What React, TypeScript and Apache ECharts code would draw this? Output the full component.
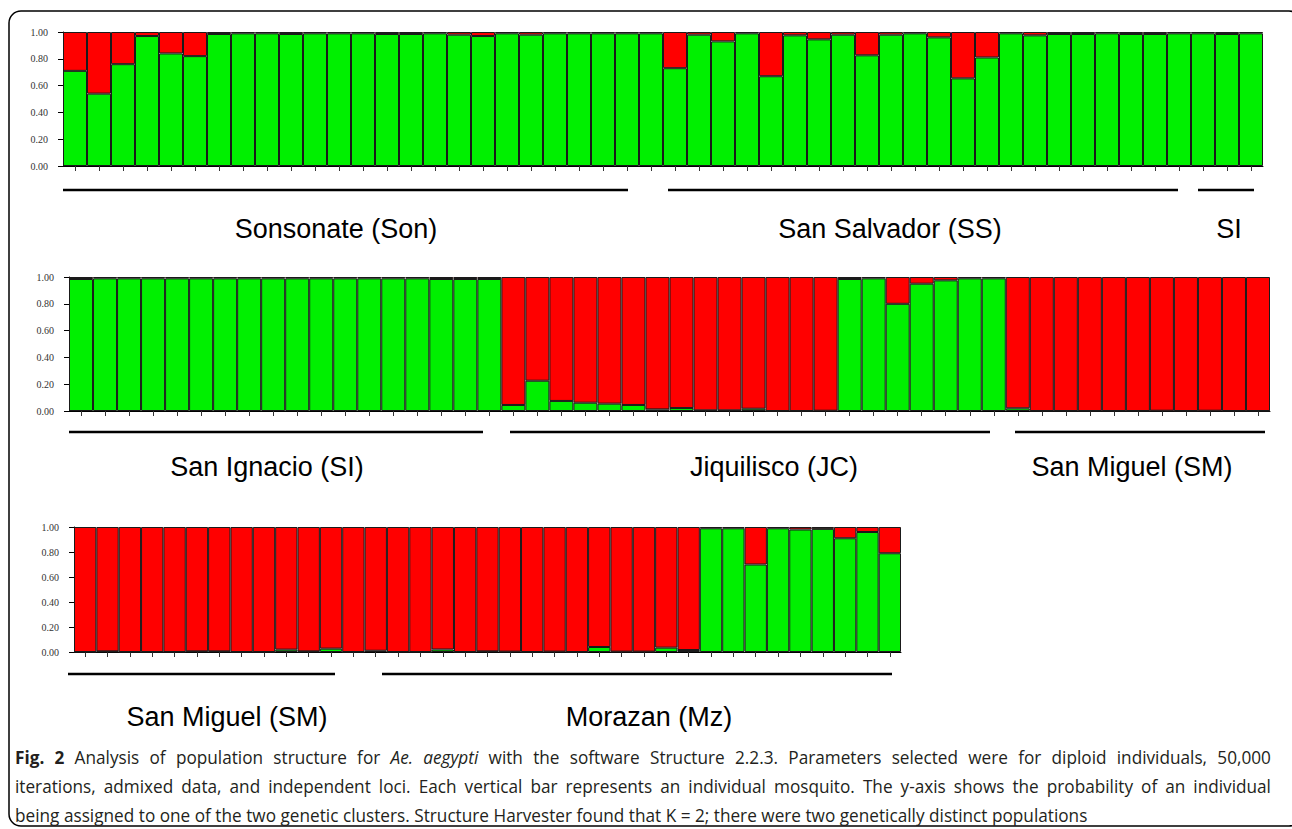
import React, { useEffect, useRef } from "react";
import * as echarts from "echarts";

// ---- Data: probability of membership in the "green" cluster (red = remainder) ----
const panel1Green = [
  0.71, 0.54, 0.76, 0.97, 0.84, 0.82, 0.985, 0.99, 0.99, 0.985, 0.99, 0.99, 0.99, 0.985, 0.985, 0.99,
  0.98, 0.97, 0.99, 0.98, 0.99, 0.99, 0.99, 0.99, 0.99,
  0.73, 0.98, 0.93, 0.99, 0.67, 0.975, 0.945, 0.98, 0.826, 0.98, 0.99, 0.96, 0.654, 0.81,
  0.99, 0.975, 0.985, 0.985, 0.99, 0.985, 0.985, 0.99, 0.99, 0.985, 0.99,
];
const panel2Green = [
  0.985, 0.99, 0.99, 0.99, 0.99, 0.99, 0.99, 0.99, 0.99, 0.99, 0.99, 0.99, 0.99, 0.99, 0.99, 0.985, 0.985, 0.985,
  0.045, 0.226, 0.075, 0.062, 0.055, 0.045, 0.012, 0.022, 0.005, 0.005, 0.017, 0.0, 0.0, 0.002,
  0.985, 0.99, 0.8, 0.95, 0.975, 0.99, 0.99,
  0.02, 0.0, 0.0, 0.0, 0.0, 0.0, 0.002, 0.0, 0.002, 0.0, 0.0,
];
const panel3Green = [
  0.0, 0.005, 0.0, 0.0, 0.0, 0.005, 0.005, 0.0, 0.0, 0.019, 0.005, 0.027, 0.0, 0.01, 0.0, 0.0, 0.02,
  0.0, 0.005, 0.003, 0.0, 0.003, 0.0, 0.04, 0.003, 0.003, 0.035, 0.016,
  0.99, 0.99, 0.7, 0.99, 0.98, 0.985, 0.91, 0.96, 0.79,
];
const yTicks = [0, 0.2, 0.4, 0.6, 0.8, 1.0];

const panel1Groups = ["Sonsonate (Son)", "San Salvador (SS)", "SI"];
const panel2Groups = ["San Ignacio (SI)", "Jiquilisco (JC)", "San Miguel (SM)"];
const panel3Groups = ["San Miguel (SM)", "Morazan (Mz)"];

const captionLines = [
  "{b|Fig. 2} Analysis of population structure for {i|Ae. aegypti} with the software Structure 2.2.3. Parameters selected were for diploid individuals, 50,000",
  "iterations, admixed data, and independent loci. Each vertical bar represents an individual mosquito. The y-axis shows the probability of an individual",
  "being assigned to one of the two genetic clusters. Structure Harvester found that K = 2; there were two genetically distinct populations",
];

// ---- Layout (positions / styles) ----
const GREEN = "#00f000";
const RED = "#ff0000";
const panels = [
  { green: panel1Green, left: 63, top: 32, width: 1200, height: 134, labelMargin: 15 },
  { green: panel2Green, left: 69, top: 277, width: 1201, height: 134, labelMargin: 15 },
  { green: panel3Green, left: 74, top: 527, width: 827, height: 125, labelMargin: 15 },
];
const groupLayout = [
  { names: panel1Groups, lineY: 190, textY: 229, lines: [[63, 628], [668, 1178], [1198, 1254]], centers: [336, 890, 1229] },
  { names: panel2Groups, lineY: 432, textY: 467, lines: [[69, 483], [510, 990], [1015, 1265]], centers: [267, 774, 1132] },
  { names: panel3Groups, lineY: 674, textY: 717, lines: [[68, 335], [382, 892]], centers: [227, 649] },
];
const CAP_X = 15;
const CAP_W = 1256;
const CAP_Y = [757, 786, 815];
const CAP_FONT = "Open Sans";
const CAP_SIZE = 18;
const CAP_SCALE = 0.956;
const CAP_COLOR = "#231f20";

type Word = { text: string; kind: string };

function parseLine(line: string): Word[] {
  const words: Word[] = [];
  const re = /\{(\w)\|([^}]*)\}|([^{]+)/g;
  let m: RegExpExecArray | null;
  while ((m = re.exec(line))) {
    const kind = m[1] || "n";
    const txt = m[1] ? m[2] : m[3];
    txt.split(" ").filter((w) => w.length).forEach((w) => words.push({ text: w, kind }));
  }
  return words;
}

function fontFor(kind: string) {
  const weight = kind === "b" ? "bold" : "normal";
  const style = kind === "i" ? "italic" : "normal";
  return `${style} ${weight} ${CAP_SIZE}px "${CAP_FONT}"`;
}

function captionGraphics(): any[] {
  const canvas = document.createElement("canvas");
  const ctx = canvas.getContext("2d")!;
  const out: any[] = [];
  captionLines.forEach((line, li) => {
    const words = parseLine(line);
    const widths = words.map((w) => {
      ctx.font = fontFor(w.kind);
      return ctx.measureText(w.text).width * CAP_SCALE;
    });
    ctx.font = fontFor("n");
    const space = ctx.measureText(" ").width * CAP_SCALE;
    const total = widths.reduce((a, b) => a + b, 0);
    const justify = li < captionLines.length - 1;
    const gap = justify ? (CAP_W - total) / (words.length - 1) : space;
    let x = CAP_X;
    words.forEach((w, k) => {
      out.push({
        type: "text",
        x,
        y: CAP_Y[li],
        scaleX: CAP_SCALE,
        style: {
          text: w.text,
          fontFamily: CAP_FONT,
          fontSize: CAP_SIZE,
          fontWeight: w.kind === "b" ? "bold" : "normal",
          fontStyle: w.kind === "i" ? "italic" : "normal",
          fill: CAP_COLOR,
          textAlign: "left",
          textVerticalAlign: "middle",
        },
        silent: true,
      });
      x += widths[k] + gap;
    });
  });
  return out;
}

export default function App() {
  const ref = useRef<HTMLDivElement>(null);

  useEffect(() => {
    if (!ref.current) return;
    const chart = echarts.init(ref.current, undefined, { renderer: "svg" });

    const grids = panels.map((p) => ({ left: p.left, top: p.top, width: p.width, height: p.height, containLabel: false }));
    const xAxes = panels.map((p, i) => ({
      type: "category",
      gridIndex: i,
      data: p.green.map((_, k) => String(k + 1)),
      boundaryGap: true,
      axisLine: { show: true, lineStyle: { color: "#000", width: 1 } },
      axisTick: { show: true, alignWithLabel: true, interval: 0, length: 5, lineStyle: { color: "#333" } },
      axisLabel: { show: false },
      splitLine: { show: false },
    }));
    const yAxes = panels.map((p, i) => ({
      type: "value",
      gridIndex: i,
      min: yTicks[0],
      max: yTicks[yTicks.length - 1],
      interval: 0.2,
      axisLine: { show: true, lineStyle: { color: "#000", width: 1 } },
      axisTick: { show: true, length: 5, lineStyle: { color: "#000" } },
      splitLine: { show: false },
      axisLabel: {
        formatter: (v: number) => v.toFixed(2),
        fontFamily: "'Liberation Serif', 'Times New Roman', serif",
        fontSize: 10,
        color: "#333",
        margin: p.labelMargin,
      },
    }));
    const series: any[] = [];
    panels.forEach((p, i) => {
      series.push({
        type: "bar",
        name: "Cluster 1",
        stack: "p" + i,
        xAxisIndex: i,
        yAxisIndex: i,
        barWidth: "100%",
        barCategoryGap: "0%",
        data: p.green,
        itemStyle: { color: GREEN, borderColor: "#1a1a1a", borderWidth: 1 },
        silent: true,
      });
      series.push({
        type: "bar",
        name: "Cluster 2",
        stack: "p" + i,
        xAxisIndex: i,
        yAxisIndex: i,
        barWidth: "100%",
        barCategoryGap: "0%",
        data: p.green.map((g) => +(1 - g).toFixed(3)),
        itemStyle: { color: RED, borderColor: "#1a1a1a", borderWidth: 1 },
        silent: true,
      });
    });

    const graphic: any[] = [
      {
        type: "rect",
        shape: { x: 9, y: 11, width: 1292, height: 815, r: 12 },
        style: { fill: "none", stroke: "#000", lineWidth: 1.5 },
        silent: true,
      },
    ];
    groupLayout.forEach((g) => {
      g.lines.forEach(([x1, x2]) => {
        graphic.push({
          type: "line",
          shape: { x1, y1: g.lineY, x2, y2: g.lineY },
          style: { stroke: "#000", lineWidth: 2.5 },
          silent: true,
        });
      });
      g.names.forEach((name, k) => {
        graphic.push({
          type: "text",
          x: g.centers[k],
          y: g.textY,
          style: {
            text: name,
            fontFamily: "Liberation Sans",
            fontSize: 27,
            fill: "#000",
            textAlign: "center",
            textVerticalAlign: "middle",
          },
          silent: true,
        });
      });
    });
    graphic.push(...captionGraphics());

    chart.setOption({
      animation: false,
      backgroundColor: "#fff",
      grid: grids,
      xAxis: xAxes,
      yAxis: yAxes,
      series,
      graphic,
    });

    return () => chart.dispose();
  }, []);

  return (
    <div
      ref={ref}
      style={{ position: "absolute", left: 0, top: 0, width: 1292, height: 829, background: "#fff" }}
    />
  );
}
